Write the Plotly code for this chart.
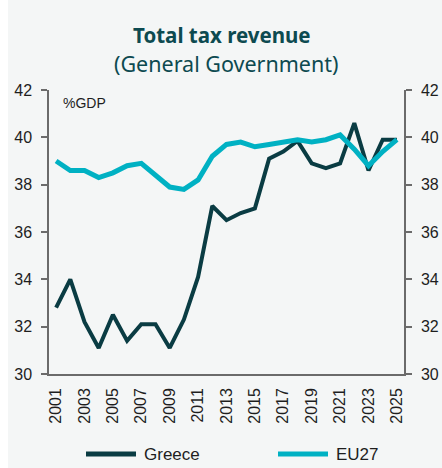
import plotly.graph_objects as go

# Tax revenue of general government, % of GDP
years = list(range(2001, 2026))
greece = [32.8, 34.0, 32.2, 31.1, 32.5, 31.4, 32.1, 32.1, 31.1, 32.3,
          34.1, 37.1, 36.5, 36.8, 37.0, 39.1, 39.4, 39.85, 38.9, 38.7,
          38.9, 40.6, 38.6, 39.9, 39.9]
eu27 = [39.0, 38.6, 38.6, 38.3, 38.5, 38.8, 38.9, 38.4, 37.9, 37.8,
        38.2, 39.2, 39.7, 39.8, 39.6, 39.7, 39.8, 39.9, 39.8, 39.9,
        40.1, 39.5, 38.8, 39.4, 39.9]
x_ticks = list(range(2001, 2026, 2))
y_ticks = [30, 32, 34, 36, 38, 40, 42]

GREECE_COLOR = "#0a3c43"
EU_COLOR = "#00b1c3"
AXIS_COLOR = "#6b6b6b"
TEXT_COLOR = "#1e1e1e"
TITLE_COLOR = "#0d4a50"
BG = "#f4f6f6"
LABEL_FONT = "Liberation Sans, Arial"

W, H = 442, 468
plot_l, plot_r, plot_t, plot_b = 49, 38, 90, 94
plot_w, plot_h = W - plot_l - plot_r, H - plot_t - plot_b


def px_x(x):
    return (x - plot_l) / plot_w


def px_y(y):
    return 1 + (plot_t - y) / plot_h


series = [("Greece", greece, GREECE_COLOR, 4, "y"),
          ("EU27", eu27, EU_COLOR, 5, "y2")]

fig = go.Figure()
for name, values, color, width, axis in series:
    fig.add_trace(go.Scatter(x=years, y=values, name=name, mode="lines",
                             line=dict(color=color, width=width), yaxis=axis,
                             showlegend=False))

tick_font = dict(family=LABEL_FONT, size=16, color=TEXT_COLOR)
yaxis_common = dict(range=[30, 42], tickvals=y_ticks, showgrid=False, zeroline=False,
                    showline=True, linecolor=AXIS_COLOR, linewidth=1.5,
                    ticks="outside", ticklen=6, tickcolor=AXIS_COLOR, tickwidth=1.5,
                    ticklabelstandoff=6, tickfont=tick_font, fixedrange=True,
                    automargin=False)

annotations = [
    dict(text="<b>Total tax revenue</b>", x=px_x(222), y=px_y(35)),
    dict(text="(General Government)", x=px_x(226), y=px_y(64)),
]
for ann, size in zip(annotations, (20.5, 21.5)):
    ann.update(xref="paper", yref="paper", xanchor="center", yanchor="middle",
               showarrow=False, font=dict(family="Noto Sans", size=size, color=TITLE_COLOR))
annotations.append(dict(text="%GDP", x=px_x(61), y=px_y(103), xref="paper", yref="paper",
                        xanchor="left", yanchor="middle", showarrow=False,
                        font=dict(family=LABEL_FONT, size=14, color=TEXT_COLOR)))

fig.update_layout(
    width=W, height=H,
    margin=dict(l=plot_l, r=plot_r, t=plot_t, b=plot_b, autoexpand=False),
    paper_bgcolor=BG, plot_bgcolor=BG,
    showlegend=False,
    xaxis=dict(range=[2000.5, 2025.5], tickvals=x_ticks, tickangle=-90,
               showgrid=False, zeroline=False, showline=True, linecolor=AXIS_COLOR,
               linewidth=1.5, ticks="", ticklabelstandoff=6, tickfont=tick_font,
               automargin=False),
    yaxis=dict(side="left", **yaxis_common),
    yaxis2=dict(side="right", overlaying="y", **yaxis_common),
    annotations=annotations,
)

# White strip along the left edge of the page
fig.add_shape(type="rect", xref="paper", yref="paper",
              x0=-1, x1=px_x(8), y0=-1, y1=2,
              fillcolor="white", line_width=0, layer="below")

# Legend key: a line sample followed by the series name
legend_y = px_y(454)
for (name, _, color, width, _), x_start in zip(series, (86, 278)):
    fig.add_shape(type="line", xref="paper", yref="paper",
                  x0=px_x(x_start), x1=px_x(x_start + 50), y0=legend_y, y1=legend_y,
                  line=dict(color=color, width=5))
    fig.add_annotation(text=name, x=px_x(x_start + 56), y=legend_y,
                       xref="paper", yref="paper", xanchor="left", yanchor="middle",
                       showarrow=False,
                       font=dict(family=LABEL_FONT, size=17, color=TEXT_COLOR))

fig.write_html("out.html")
